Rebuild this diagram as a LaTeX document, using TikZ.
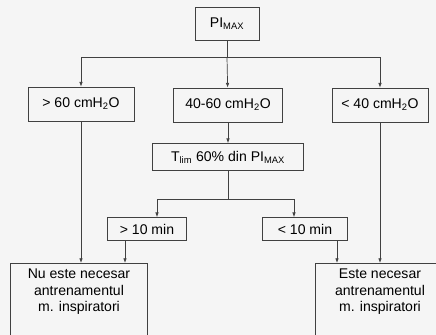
\documentclass[tikz,border=0pt]{standalone}
\usepackage{fontspec}
\setmainfont{Liberation Sans}
\usetikzlibrary{arrows.meta,positioning,calc}

\begin{document}
\begin{tikzpicture}[x=0.03cm,y=-0.03cm,font=\fontsize{12}{14}\selectfont,
  >={Latex[length=4pt,width=3pt]},line width=0.6pt,draw=black!75,
  bx/.style={draw=black!75,rectangle,inner sep=0pt,align=center},
  fin/.style={bx,anchor=north,inner sep=5pt,text depth=70pt}]
  \fill[black!4] (0,0) rectangle (436,335);
  \useasboundingbox (0,0) rectangle (436,335);
  \clip (0,0) rectangle (436,335);
  \node[bx,minimum width=1.92cm,minimum height=0.99cm] (pimax) at (227,24) {PI\textsubscript{MAX}};
  \node[bx,minimum width=3.18cm,minimum height=1.02cm] (gt60) at (81,104) {> 60 cmH\textsubscript{2}O};
  \node[bx,minimum width=3.27cm,minimum height=1.02cm] (mid) at (228,105) {40-60 cmH\textsubscript{2}O};
  \node[bx,minimum width=2.88cm,minimum height=1.02cm] (lt40) at (380,105) {< 40 cmH\textsubscript{2}O};
  \node[bx,minimum width=4.53cm,minimum height=0.81cm] (tlim) at (228,157) {T\textsubscript{lim} 60\% din PI\textsubscript{MAX}};
  \node[bx,minimum width=2.37cm,minimum height=0.69cm] (gt10) at (147,229) {> 10 min};
  \node[bx,minimum width=2.55cm,minimum height=0.69cm] (lt10) at (305,229) {< 10 min};
  \node[fin,minimum width=4.11cm] (nu) at (79,263) {Nu este necesar\\antrenamentul\\m. inspiratori};
  \node[fin,minimum width=3.9cm] (da) at (380,263) {Este necesar\\antrenamentul\\m. inspiratori};
  \coordinate (split) at (227,57);
  \coordinate (tl) at (157,199);
  \coordinate (tr) at (294,199);
  \draw (pimax) -- (split);
  \draw[->] (split) -| (gt60);
  \draw[->] (split) -- (mid);
  \draw[->] (split) -| (lt40);
  \draw[->] (mid) -- (tlim);
  \draw (tlim) -- (tlim |- tl);
  \draw[->] (tlim |- tl) -- (tl) -- (tl |- gt10.north);
  \draw[->] (tlim |- tr) -- (tr) -- (tr |- lt10.north);
  \draw[->] (gt60) -- (gt60 |- nu.north);
  \draw[->] (lt40) -- (lt40 |- da.north);
  \draw[->] ([xshift=-0.66cm]gt10.south) -- ([xshift=-0.66cm]gt10.south |- nu.north);
  \draw[->] ([xshift=0.96cm]lt10.south) -- ([xshift=0.96cm]lt10.south |- da.north);
\end{tikzpicture}
\end{document}
